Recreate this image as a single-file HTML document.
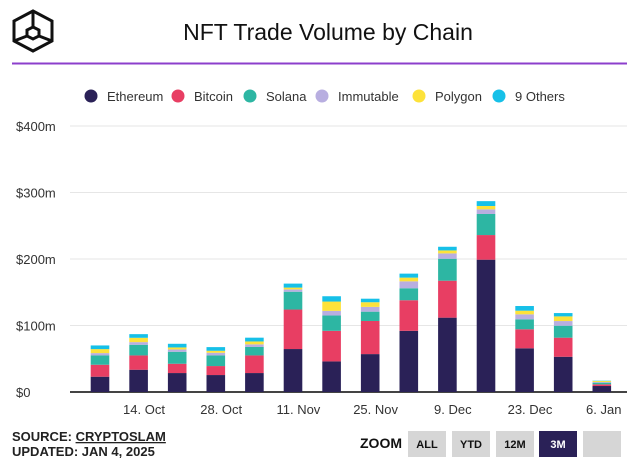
<!DOCTYPE html>
<html><head><meta charset="utf-8"><style>
body{margin:0;background:#fff;font-family:"Liberation Sans",sans-serif;}
svg{display:block}
</style></head><body>
<svg id="chart" width="639" height="466" viewBox="0 0 639 466" xmlns="http://www.w3.org/2000/svg">
<g fill="none" stroke="#111" stroke-width="3">
<polygon points="33,11 52,21 52,41 33,51 14,41 14,21"/>
<polygon points="33,27 39,30 39,36 33,39 27,36 27,30"/>
<line x1="33" y1="11" x2="33" y2="27"/><line x1="14" y1="41" x2="27" y2="36"/><line x1="52" y1="41" x2="39" y2="36"/>
</g>
<text x="328" y="40" text-anchor="middle" font-size="23" fill="#111">NFT Trade Volume by Chain</text>
<line x1="12" y1="63.5" x2="627" y2="63.5" stroke="#8c3fcc" stroke-width="2"/>
<g id="legend"></g>
<g id="grid"></g>
<g id="bars"></g>
<g id="xlabels"></g>
<text x="12" y="441" font-size="13" font-weight="bold" fill="#222">SOURCE: <tspan text-decoration="underline">CRYPTOSLAM</tspan></text>
<text x="12" y="456" font-size="13" font-weight="bold" fill="#222">UPDATED: JAN 4, 2025</text>
<text x="360" y="448" font-size="14" font-weight="bold" fill="#111">ZOOM</text>
<g><rect x="408" y="431" width="38" height="26" fill="#d6d6d6"/><text x="427" y="448" text-anchor="middle" font-size="11" font-weight="bold" fill="#111">ALL</text></g>
<g><rect x="452" y="431" width="38" height="26" fill="#d6d6d6"/><text x="471" y="448" text-anchor="middle" font-size="11" font-weight="bold" fill="#111">YTD</text></g>
<g><rect x="496" y="431" width="38" height="26" fill="#d6d6d6"/><text x="515" y="448" text-anchor="middle" font-size="11" font-weight="bold" fill="#111">12M</text></g>
<g><rect x="539" y="431" width="38" height="26" fill="#2a2157"/><text x="558" y="448" text-anchor="middle" font-size="11" font-weight="bold" fill="#fff">3M</text></g>
<g><rect x="583" y="431" width="38" height="26" fill="#d6d6d6"/></g>
</svg>
<script>
const seriesNames=["Ethereum","Bitcoin","Solana","Immutable","Polygon","9 Others"];
const ethereum=[23,33.5,28.5,25.5,28.5,64.6,46,57,92,111.8,199,65.7,53,9];
const bitcoin=[18,21.5,14,13.5,26.5,59.4,46,49.8,46,55.6,37,28.6,28.7,2.5];
const solana=[14,16,18,16,12.7,26.8,23,14,18,33,31.7,15,18,2.5];
const immutable=[3.5,4,3.5,4,4,3.5,7,7.2,10.4,8,7,7.5,7,1];
const polygon=[6,6.5,3,3,4.3,2.7,14,7,5.6,4.5,5,5.5,7,1.5];
const others=[5.5,5.5,5.5,5.5,5.7,6,8,5.3,6,5.5,7.3,7,5,0.5];
const yTicks=[0,100,200,300,400];
const yTickLabels=["$0","$100m","$200m","$300m","$400m"];
const xTickIdx=[1.14,3.14,5.14,7.14,9.14,11.14,13.05];
const xTickLabels=["14. Oct","28. Oct","11. Nov","25. Nov","9. Dec","23. Dec","6. Jan"];
const colors=["#2a2157","#e83e63","#2db6a3","#b8aee0","#fde23a","#16c0e8"];
const NS="http://www.w3.org/2000/svg";
const y=v=>392-v*0.665;
const x=i=>100+i*38.6;
function mk(t,a,p){const e=document.createElementNS(NS,t);for(const k in a)e.setAttribute(k,a[k]);p.appendChild(e);return e;}
const grid=document.getElementById('grid');
yTicks.forEach((t,i)=>{
 if(t>0){const l=mk('line',{x1:70,x2:627,y1:y(t),y2:y(t),stroke:'#e6e6e6','stroke-width':1},grid);
 
 }
 const tx=mk('text',{x:16,y:y(t)+5,'font-size':13,fill:'#333'},grid);tx.textContent=yTickLabels[i];
 
 
});
const base=mk('line',{x1:70,x2:627,y1:392,y2:392,stroke:'#444','stroke-width':2},grid);


const bars=document.getElementById('bars');
const all=[ethereum,bitcoin,solana,immutable,polygon,others];
ethereum.forEach((_,i)=>{
 let acc=0;
 all.forEach((s,k)=>{
  const r=mk('rect',{x:x(i)-9.3,width:18.6,y:y(acc+s[i]),height:Math.max(0,y(acc)-y(acc+s[i])),fill:colors[k]},bars);
  
  
  acc+=s[i];
 });
});
const xl=document.getElementById('xlabels');
xTickIdx.forEach((d,i)=>{
 const t=mk('text',{x:x(d),y:414,'text-anchor':'middle','font-size':13,fill:'#333'},xl);t.textContent=xTickLabels[i];
 
 
});
const lg=document.getElementById('legend');
const lx=[91,178,250,322,419,499];
seriesNames.forEach((n,k)=>{
 const g=mk('g',{},lg);
 
 
 mk('circle',{cx:lx[k],cy:96,r:6.5,fill:colors[k]},g);
 const t=mk('text',{x:lx[k]+16,y:101,'font-size':13,fill:'#333'},g);t.textContent=n;
});
</script>
</body></html>
